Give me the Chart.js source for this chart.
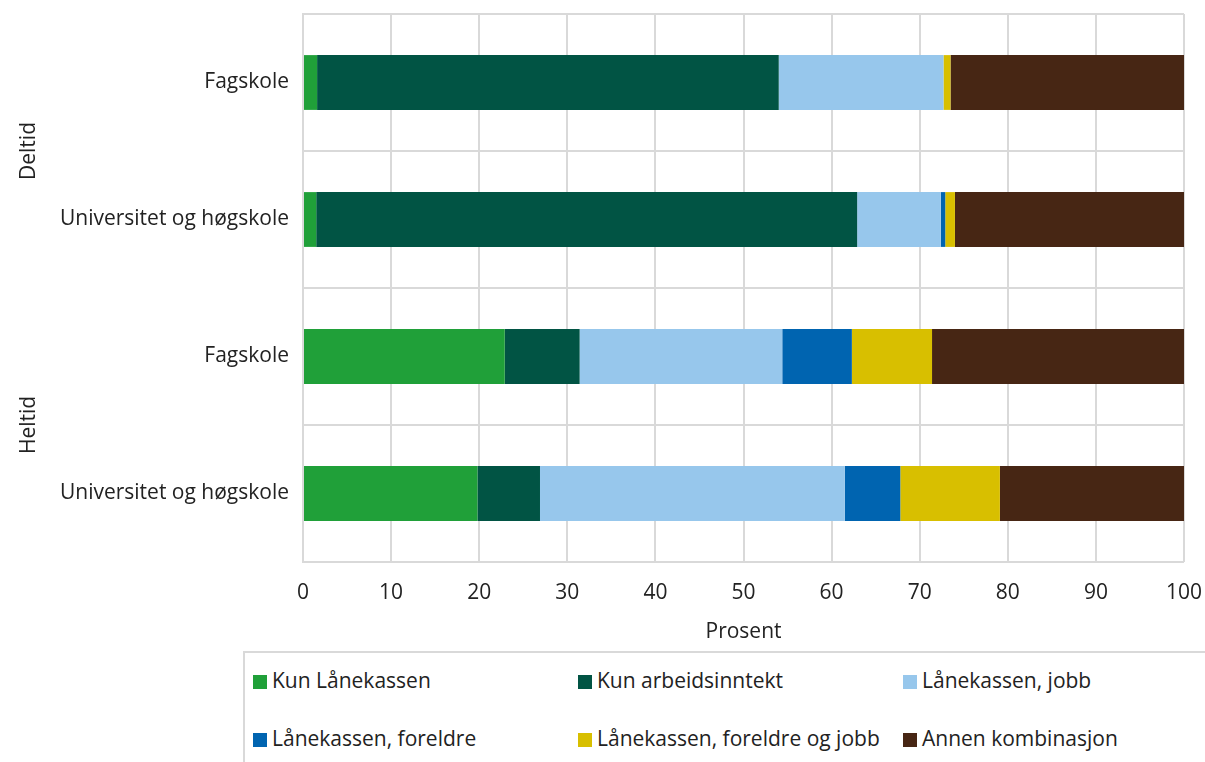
<!DOCTYPE html>
<html lang="no">
<head>
<meta charset="utf-8">
<title>Finansiering</title>
<script src="https://cdn.jsdelivr.net/npm/chart.js@4"></script>
<style>
    body { margin: 0; background: #fff; font-family: "Open Sans", sans-serif; }
    #wrap { position: relative; width: 1205px; height: 762px; overflow: hidden; }
    #chartBox { position: absolute; left: 0; top: 0; width: 1205px; height: 650px; }
    #legend {
        position: absolute; left: 243px; top: 651px; width: 1000px; height: 120px;
        border-left: 2px solid #d9d9d9; border-top: 2px solid #d9d9d9;
        box-sizing: border-box;
    }
    .item { position: absolute; font-size: 21px; color: #222; line-height: 26px; white-space: nowrap; }
    .item span.box { display: inline-block; width: 14px; height: 14px; margin-right: 5px; vertical-align: -1px; }
</style>
</head>
<body>
<div id="wrap">
    <div id="chartBox"><canvas id="chart"></canvas></div>
    <div id="legend"></div>
</div>
<script>
// ---------------- Data ----------------
const categories  = ["Fagskole", "Universitet og høgskole", "Fagskole", "Universitet og høgskole"];
const groupLabels = ["Deltid", "Heltid"];
const groupSizes  = [2, 2];

const seriesNames = [
    "Kun Lånekassen",
    "Kun arbeidsinntekt",
    "Lånekassen, jobb",
    "Lånekassen, foreldre",
    "Lånekassen, foreldre og jobb",
    "Annen kombinasjon"
];
const seriesColors = ["#20a039", "#015444", "#97c7ec", "#0064b0", "#d8bf00", "#472614"];

const kunLanekassen      = [1.6, 1.5, 22.9, 19.8];
const kunArbeidsinntekt  = [52.4, 61.4, 8.5, 7.1];
const lanekassenJobb     = [18.7, 9.5, 23.0, 34.6];
const lanekassenForeldre = [0.0, 0.5, 7.9, 6.3];
const foreldreOgJobb     = [0.8, 1.1, 9.1, 11.3];
const annenKombinasjon   = [26.5, 26.0, 28.6, 20.9];

const seriesValues = [kunLanekassen, kunArbeidsinntekt, lanekassenJobb,
                      lanekassenForeldre, foreldreOgJobb, annenKombinasjon];

const xTicks = [0, 10, 20, 30, 40, 50, 60, 70, 80, 90, 100];

// ---------------- Chart ----------------
const FONT = "'Open Sans', sans-serif";
const FONT_SIZE = 21;
const TEXT = "#222";
const GRID = "#d9d9d9";

// gruppe-etiketter (Deltid / Heltid) til venstre
const groupLabelPlugin = {
    id: "groupLabels",
    afterDraw(chart) {
        const y = chart.scales.y;
        const ctx = chart.ctx;
        let start = 0;
        ctx.save();
        ctx.font = FONT_SIZE + "px " + FONT;
        ctx.fillStyle = TEXT;
        ctx.textAlign = "center";
        ctx.textBaseline = "middle";
        groupLabels.forEach((g, i) => {
            const end = start + groupSizes[i] - 1;
            const mid = (y.getPixelForValue(start) + y.getPixelForValue(end)) / 2;
            ctx.save();
            ctx.translate(29, mid);
            ctx.rotate(-Math.PI / 2);
            ctx.fillText(g, 0, 0);
            ctx.restore();
            start += groupSizes[i];
        });
        ctx.restore();
    }
};

const ctx = document.getElementById("chart").getContext("2d");

new Chart(ctx, {
    type: "bar",
    data: {
        labels: categories,
        datasets: seriesNames.map((name, i) => ({
            label: name,
            data: seriesValues[i],
            backgroundColor: seriesColors[i],
            borderWidth: 0,
            barPercentage: 0.4,
            categoryPercentage: 1
        }))
    },
    options: {
        indexAxis: "y",
        responsive: true,
        maintainAspectRatio: false,
        animation: false,
        layout: { padding: { top: 14, right: 21, left: 0, bottom: 0 } },
        plugins: {
            legend: { display: false },
            tooltip: { enabled: false }
        },
        scales: {
            x: {
                stacked: true,
                min: 0,
                max: 100,
                afterBuildTicks: s => { s.ticks = xTicks.map(v => ({ value: v })); },
                afterFit: s => { s.height = 88; s.paddingLeft = 0; s.paddingRight = 0; },
                grid: { color: GRID, lineWidth: 2, drawTicks: false },
                border: { display: false },
                ticks: { color: TEXT, font: { family: FONT, size: FONT_SIZE }, padding: 18 },
                title: {
                    display: true,
                    text: "Prosent",
                    color: TEXT,
                    font: { family: FONT, size: FONT_SIZE },
                    padding: { top: 0, bottom: 5 }
                }
            },
            y: {
                stacked: true,
                afterFit: s => { s.width = 303; s.paddingTop = 0; s.paddingBottom = 0; },
                grid: { color: GRID, lineWidth: 2, drawTicks: false, offset: true },
                border: { color: GRID, width: 2 },
                ticks: { color: TEXT, font: { family: FONT, size: FONT_SIZE }, padding: 14 }
            }
        }
    },
    plugins: [groupLabelPlugin]
});

// ---------------- Legende ----------------
const legend = document.getElementById("legend");
seriesNames.forEach((name, i) => {
    const el = document.createElement("div");
    el.className = "item";
    el.style.left = (8 + (i % 3) * 325) + "px";
    el.style.top = (14 + Math.floor(i / 3) * 58) + "px";
    el.innerHTML = `<span class="box" style="background:${seriesColors[i]}"></span>${name}`;
    legend.appendChild(el);
});
</script>
</body>
</html>
